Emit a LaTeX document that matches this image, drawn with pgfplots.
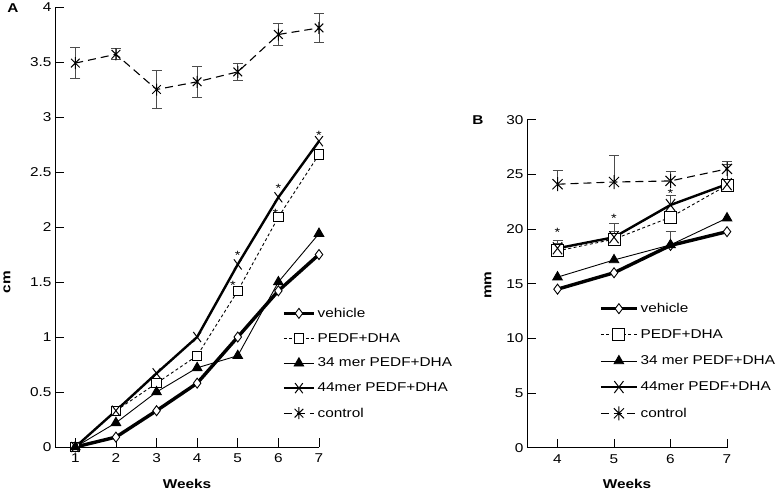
\documentclass[border=0pt]{standalone}
\usepackage{fontspec}
\setmainfont{Liberation Sans}[FakeStretch=1.2]
\usepackage{pgfplots}
\pgfplotsset{compat=1.18}
\newcommand\lab{\fontsize{12.8}{15}\selectfont}
% x with a vertical bar through it, as the control marker
\pgfdeclareplotmark{xast}{%
  \pgfpathmoveto{\pgfqpoint{-.72\pgfplotmarksize}{-.72\pgfplotmarksize}}%
  \pgfpathlineto{\pgfqpoint{.72\pgfplotmarksize}{.72\pgfplotmarksize}}%
  \pgfpathmoveto{\pgfqpoint{-.72\pgfplotmarksize}{.72\pgfplotmarksize}}%
  \pgfpathlineto{\pgfqpoint{.72\pgfplotmarksize}{-.72\pgfplotmarksize}}%
  \pgfpathmoveto{\pgfqpoint{0pt}{-\pgfplotmarksize}}%
  \pgfpathlineto{\pgfqpoint{0pt}{\pgfplotmarksize}}%
  \pgfusepathqstroke}
\pgfplotsset{
  panel/.style={
    scale only axis, anchor=south west, clip=false,
    axis x line*=bottom, axis y line*=left,
    axis line style={black, line width=0.8pt},
    tick align=inside, major tick length=9pt,
    tick style={black, line width=0.8pt},
    font=\lab, ticklabel style={font=\lab},
    xticklabel style={yshift=-3pt},
    /pgf/number format/assume math mode=true,
    legend cell align=left,
    legend style={draw=none, fill=none, font=\lab, inner sep=0pt},
    error bars/error bar style={line width=0.8pt, black!70, solid},
    error bars/error mark options={rotate=90, mark size=5pt, line width=0.8pt, black!70, solid},
  },
  vehicle/.style={black, line width=3.4pt, mark=diamond*, mark options={fill=white, solid, line width=0.9pt, mark size=5pt}},
  pedf/.style={black, line width=0.9pt, dash pattern=on 3pt off 2.5pt, mark=square*, mark options={fill=white, solid, line width=0.9pt, mark size=#1}},
  m34/.style={black, line width=0.9pt, mark=triangle*, mark options={fill=black, solid, mark size=5.5pt}},
  m44/.style={black, line width=2.4pt, mark=x, mark options={solid, line width=1pt, mark size=#1, yscale=1.3}},
  control/.style={black, line width=1.1pt, dash pattern=on 8pt off 5pt, mark=xast, mark options={solid, line width=1pt, mark size=#1}},
  stars/.style={draw=none, mark=none, forget plot, nodes near coords={*},
    every node near coord/.style={anchor=center, inner sep=0pt, yshift=-2pt, font=\fontsize{12}{12}\selectfont}},
}
\begin{document}
\begin{tikzpicture}
\useasboundingbox (0pt,0pt) rectangle (775pt,493pt);
\node[font=\lab\bfseries] at (13pt,485pt) {A};
\node[font=\lab\bfseries] at (478pt,373pt) {B};

% ---------------- panel A ----------------
\begin{axis}[panel, at={(55pt,46pt)}, width=264pt, height=440pt,
  xmin=0.5, xmax=7, ymin=0, ymax=4,
  xtick={1,...,7}, ytick={0,0.5,...,4},
  xlabel={\bfseries Weeks},
  xlabel style={at={(axis description cs:0.5,-0.084)}, anchor=center},
  ylabel={\bfseries cm},
  ylabel style={at={(axis description cs:-0.182,0.375)}, anchor=center},
  legend style={at={(0.86,0.321)}, anchor=north west, row sep=10.5pt},
  legend image code/.code={\draw[mark repeat=2,mark phase=2] plot coordinates {(0pt,0pt) (15pt,0pt) (30pt,0pt)};},
]
\addplot[vehicle] coordinates {(1,0) (2,0.09) (3,0.33) (4,0.58) (5,1.0) (6,1.42) (7,1.75)};
\addplot[pedf=4.6pt] coordinates {(1,0) (2,0.33) (3,0.58) (4,0.83) (5,1.42) (6,2.09) (7,2.66)};
\addplot[m34] coordinates {(1,0) (2,0.22) (3,0.50) (4,0.72) (5,0.83) (6,1.50) (7,1.94)};
\addplot[m44=5.5pt] coordinates {(1,0) (2,0.33) (3,0.67) (4,1.0) (5,1.66) (6,2.27) (7,2.78)};
\addplot[control=6pt, error bars/.cd, y dir=both, y explicit] coordinates {
  (1,3.49) +- (0,0.14) (2,3.57) +- (0,0.05) (3,3.25) +- (0,0.17) (4,3.32) +- (0,0.14)
  (5,3.41) +- (0,0.08) (6,3.75) +- (0,0.10) (7,3.81) +- (0,0.13)};
\addplot[stars] coordinates {(5,1.76) (4.88,1.49) (6,2.37) (5.93,2.14) (7,2.85)};
\legend{vehicle, PEDF+DHA, 34 mer PEDF+DHA, 44mer PEDF+DHA, control}
\end{axis}

% ---------------- panel B ----------------
\begin{axis}[panel, at={(527pt,45.3pt)}, width=200pt, height=328pt,
  xmin=3.46, xmax=7, ymin=0, ymax=30,
  xtick={4,...,7}, ytick={0,5,...,30},
  xlabel={\bfseries Weeks},
  xlabel style={at={(axis description cs:0.5,-0.11)}, anchor=center},
  ylabel={\bfseries mm},
  ylabel style={at={(axis description cs:-0.195,0.496)}, anchor=center},
  legend style={at={(0.36,0.447)}, anchor=north west, row sep=11.7pt},
  legend image code/.code={\draw[mark repeat=2,mark phase=2] plot coordinates {(0pt,0pt) (18pt,0pt) (36pt,0pt)};},
]
\addplot[vehicle, error bars/.cd, y dir=plus, y explicit] coordinates {(4,14.5) (5,16.0) (6,18.5) +- (0,1.3) (7,19.76)};
\addplot[pedf=6pt, error bars/.cd, y dir=plus, y explicit] coordinates {(4,18.0) +- (0,0.7) (5,19.07) +- (0,0.75) (6,21.08) (7,24.0)};
\addplot[m34] coordinates {(4,15.6) (5,17.17) (6,18.55) (7,21.0)};
\addplot[m44=6.5pt, error bars/.cd, y dir=plus, y explicit] coordinates {(4,18.24) +- (0,0.76) (5,19.25) +- (0,1.25) (6,22.2) +- (0,0.9) (7,24.1) +- (0,1.8)};
\addplot[control=7pt, error bars/.cd, y dir=plus, y explicit] coordinates {
  (4,24.1) +- (0,1.3) (5,24.3) +- (0,2.4) (6,24.4) +- (0,0.85) (7,25.5) +- (0,0.7)};
\addplot[stars] coordinates {(4,19.85) (5,21.2) (6,23.4)};
\legend{vehicle, PEDF+DHA, 34 mer PEDF+DHA, 44mer PEDF+DHA, control}
\end{axis}
\end{tikzpicture}
\end{document}
